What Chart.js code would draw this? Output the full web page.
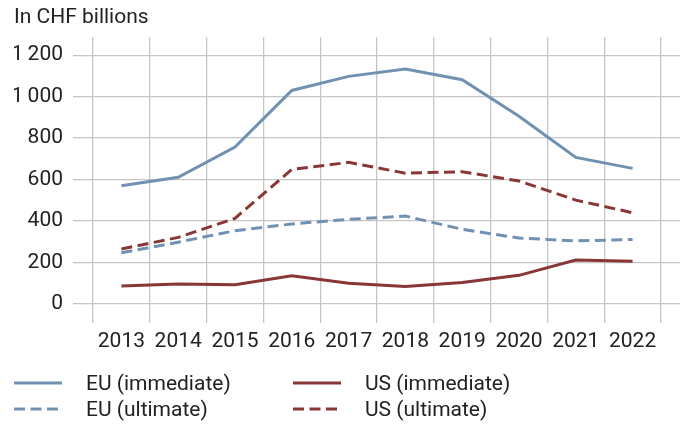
<!DOCTYPE html>
<html>
<head>
<meta charset="utf-8">
<script src="https://cdn.jsdelivr.net/npm/chart.js@4/dist/chart.umd.min.js"></script>
<style>
  html, body { margin: 0; padding: 0; background: #fff; }
  #wrap { position: relative; width: 683px; height: 427px; }
  #legend { position: absolute; left: 0; top: 0; width: 683px; height: 427px; pointer-events: none;
            font-family: Roboto, "Liberation Sans", sans-serif; font-weight: 400; font-size: 21px; color: #222; }
  .item { position: absolute; height: 26px; line-height: 26px; white-space: nowrap; }
  .item svg { position: absolute; left: 0; top: 0; }
  .item span { position: absolute; left: 72px; top: 0; }
</style>
</head>
<body>
<div id="wrap">
  <canvas id="c" width="683" height="427"></canvas>
  <div id="legend"></div>
</div>
<script>
const years = ['2013','2014','2015','2016','2017','2018','2019','2020','2021','2022'];
const euImmediate = [570, 611, 757, 1030, 1098, 1133, 1082, 906, 707, 654];
const usImmediate = [87, 96, 93, 136, 100, 84, 103, 138, 212, 206];
const euUltimate  = [247, 298, 353, 386, 408, 424, 360, 318, 304, 311];
const usUltimate  = [265, 321, 413, 649, 683, 631, 638, 593, 501, 440];
const yTicks = [0, 200, 400, 600, 800, 1000, 1200];

const BLUE = '#7191b3';
const RED = '#893636';
const GRID = '#c6c6c6';
const FONT = { family: 'Roboto, "Liberation Sans", sans-serif', size: 21, weight: 400, lineHeight: 1.2 };

function fmt(v) { return String(v).replace(/\B(?=(\d{3})+(?!\d))/g, '\u2009'); }

const datasets = [
  { label: 'EU (immediate)', data: euImmediate, borderColor: BLUE, borderDash: [] },
  { label: 'US (immediate)', data: usImmediate, borderColor: RED, borderDash: [] },
  { label: 'EU (ultimate)', data: euUltimate, borderColor: BLUE, borderDash: [11, 5.5] },
  { label: 'US (ultimate)', data: usUltimate, borderColor: RED, borderDash: [11, 5.5] }
].map(d => Object.assign(d, { borderWidth: 3, pointRadius: 0, fill: false, tension: 0, backgroundColor: d.borderColor }));

const setTicks = s => { s.ticks = yTicks.map(v => ({ value: v })); };

const chart = new Chart(document.getElementById('c'), {
  type: 'line',
  data: { labels: years, datasets },
  options: {
    responsive: false,
    animation: false,
    layout: { padding: { left: 14, right: 3, top: 0, bottom: 74 } },
    plugins: {
      legend: { display: false },
      tooltip: { enabled: false },
      title: {
        display: true, text: 'In CHF billions', align: 'start', color: '#222',
        font: FONT, padding: { top: 5, bottom: 7 }
      }
    },
    scales: {
      x: {
        type: 'category', offset: true,
        afterFit: s => { s.height = 30; },
        grid: { offset: true, color: GRID, lineWidth: 1.3, drawTicks: false },
        border: { display: false },
        ticks: { color: '#222', font: FONT, padding: 6, maxRotation: 0, autoSkip: false }
      },
      y: {
        position: 'left', min: -92, max: 1287,
        afterBuildTicks: setTicks,
        afterFit: s => { s.width = 79; },
        grid: { color: GRID, lineWidth: 1.3, drawTicks: true, tickLength: 20 },
        border: { display: false },
        ticks: { color: '#222', font: FONT, padding: 10, callback: v => fmt(v) }
      },
      y2: {
        position: 'right', min: -92, max: 1287,
        afterBuildTicks: setTicks,
        afterFit: s => { s.width = 19; },
        grid: { color: GRID, lineWidth: 1.3, drawTicks: true, tickLength: 19, drawOnChartArea: false },
        border: { display: false },
        ticks: { display: false }
      }
    }
  }
});

// HTML legend built from the chart's datasets, laid out in two columns
const pos = [
  { left: 14, top: 370 }, { left: 293, top: 370 },
  { left: 14, top: 396 }, { left: 293, top: 396 }
];
const leg = document.getElementById('legend');
chart.data.datasets.forEach((ds, i) => {
  const el = document.createElement('div');
  el.className = 'item';
  el.style.left = pos[i].left + 'px';
  el.style.top = pos[i].top + 'px';
  const dash = ds.borderDash && ds.borderDash.length ? `stroke-dasharray="${ds.borderDash.join(' ')}"` : '';
  el.innerHTML = `<svg width="50" height="26"><line x1="0" y1="13" x2="48" y2="13" stroke="${ds.borderColor}" stroke-width="3" ${dash}/></svg><span>${ds.label}</span>`;
  leg.appendChild(el);
});
</script>
</body>
</html>
